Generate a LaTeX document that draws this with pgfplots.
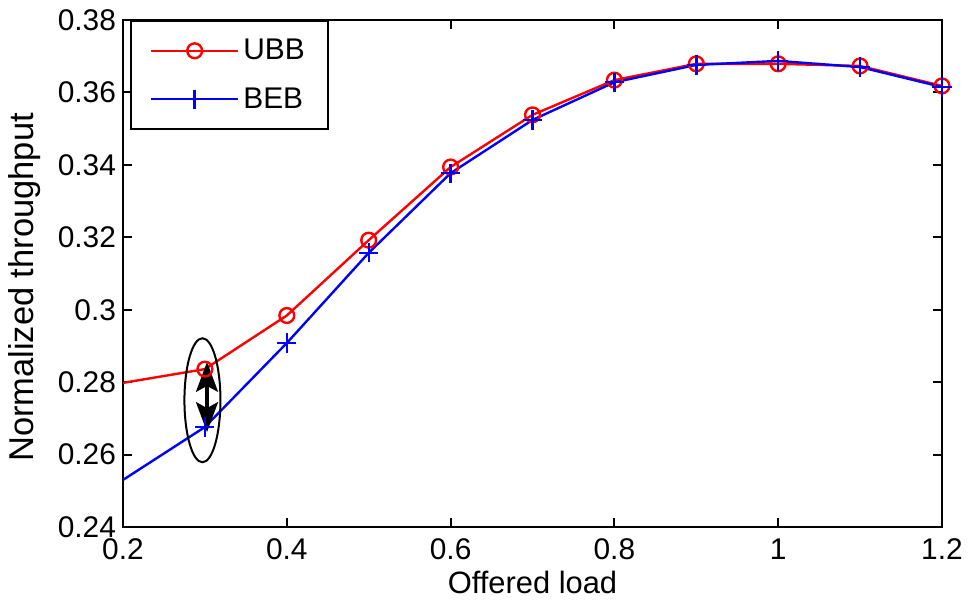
\documentclass[border=0pt]{standalone}
\usepackage{fontspec}
\setmainfont{Liberation Sans}
\usepackage{pgfplots}
\usepackage{pgfplotstable}
\pgfplotsset{compat=1.18}
\usetikzlibrary{arrows.meta}

% Normalized throughput versus offered load for the two backoff schemes
\pgfplotstableread{
load  UBB     BEB
0.2   0.2798  0.2530
0.3   0.2836  0.2676
0.4   0.2984  0.2908
0.5   0.3192  0.3157
0.6   0.3394  0.3377
0.7   0.3538  0.3524
0.8   0.3634  0.3628
0.9   0.3679  0.3676
1.0   0.3679  0.3687
1.1   0.3673  0.3670
1.2   0.3618  0.3615
}\throughput

\begin{document}
\begin{tikzpicture}
\begin{axis}[
  scale only axis,
  width=409.5bp, height=253.5bp,
  xmin=0.2, xmax=1.2, ymin=0.24, ymax=0.38,
  xtick={0.2,0.4,0.6,0.8,1,1.2},
  ytick={0.24,0.26,0.28,0.3,0.32,0.34,0.36,0.38},
  tick align=inside,
  major tick length=4.5bp,
  tick style={black, line width=1bp},
  axis line style={black, line width=1.4bp},
  /pgf/number format/assume math mode=true,
  every tick label/.append style={font=\fontsize{15}{18}\selectfont},
  xticklabel style={yshift=-2.5bp},
  xlabel={Offered load},
  ylabel={Normalized throughput},
  xlabel style={font=\fontsize{15.5}{18}\selectfont, at={(axis description cs:0.5,0)}, anchor=base, yshift=-33bp},
  ylabel style={font=\fontsize{17.3}{20}\selectfont, at={(axis description cs:0,0.5)}, anchor=center, yshift=49bp, xshift=-7bp},
  legend cell align=left,
  legend style={
    at={(axis description cs:0.0085,1)}, anchor=north west,
    draw=black, line width=1bp,
    font=\fontsize{15}{18}\selectfont,
    inner xsep=9.5bp, inner ysep=7bp, row sep=8.5bp,
  },
  legend image code/.code={
    \draw[mark indices={2}] plot coordinates {(0bp,0bp) (21.75bp,0bp) (43.5bp,0bp)};
  },
]
% the curves start at the left edge; markers from 0.3 on
\addplot[red, line width=1.2bp, mark=o, mark size=3.7bp, mark indices={2,...,11}, mark options={solid, line width=1.2bp}]
  table[x=load, y=UBB] {\throughput};
\addlegendentry{UBB}
\addplot[blue, line width=1.2bp, mark=+, mark size=4.8bp, mark indices={2,...,11}, mark options={solid, line width=1.2bp}]
  table[x=load, y=BEB] {\throughput};
\addlegendentry{BEB}

% annotation: gap between the two schemes at low load
\draw[black, line width=1bp] (axis cs:0.297,0.275) ellipse [x radius=9bp, y radius=31bp];
\draw[black, line width=1.6bp, {Stealth[length=15bp,width=11bp,inset=3bp]}-{Stealth[length=15bp,width=11bp,inset=3bp]}]
  (axis cs:0.3026,0.2856) -- (axis cs:0.3026,0.2662);
\end{axis}
\pgfresetboundingbox
\path (current axis.south west) ++(-61.5bp,-39bp) rectangle ++(484.5bp,302.5bp);
\end{tikzpicture}
\end{document}
